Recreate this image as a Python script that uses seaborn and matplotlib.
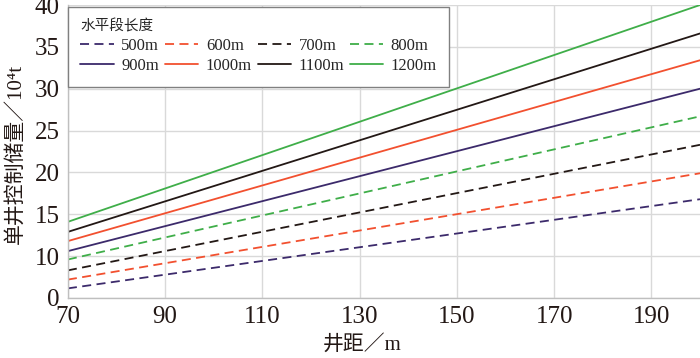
import pandas as pd
import matplotlib
matplotlib.use("Agg")
import matplotlib.pyplot as plt
import seaborn as sns
from matplotlib.lines import Line2D

# data (values at the two ends of each straight line)
spacing = [70, 200]
lengths = ["500m", "600m", "700m", "800m", "900m", "1000m", "1100m", "1200m"]
reserve_500 = [6.15, 16.8]
reserve_600 = [7.2, 19.9]
reserve_700 = [8.3, 23.3]
reserve_800 = [9.6, 26.7]
reserve_900 = [10.6, 30.0]
reserve_1000 = [11.8, 33.4]
reserve_1100 = [12.9, 36.6]
reserve_1200 = [14.1, 40.0]
all_reserves = [reserve_500, reserve_600, reserve_700, reserve_800,
                reserve_900, reserve_1000, reserve_1100, reserve_1200]

yticks = [5, 10, 15, 20, 25, 30, 35, 40]
ytick_labels = ["0", "10", "15", "20", "25", "30", "35", "40"]
xticks = [70, 90, 110, 130, 150, 170, 190]

purple = "#3c2a6b"
red = "#f2502f"
black = "#231815"
green = "#3fae49"
colors = [purple, red, black, green, purple, red, black, green]
dashed = [True] * 4 + [False] * 4

rows = []
for name, vals in zip(lengths, all_reserves):
    for x, v in zip(spacing, vals):
        rows.append({"spacing": x, "reserve": v, "length": name})
df = pd.DataFrame(rows)

sns.set_style("white")
serif = ["Liberation Serif", "Noto Sans CJK SC", "DejaVu Sans"]
plt.rcParams["font.family"] = serif

fig = plt.figure(figsize=(7, 3.58), dpi=100)
ax = fig.add_axes([0.097, 0.1676, 0.903, 0.8184])

palette = dict(zip(lengths, colors))
dash_map = {n: ((5, 3) if d else "") for n, d in zip(lengths, dashed)}
sns.lineplot(data=df, x="spacing", y="reserve", hue="length", style="length",
             palette=palette, dashes=dash_map, linewidth=1.3, legend=False, ax=ax)

ax.set_xlim(70, 200)
ax.set_ylim(5, 40)
ax.set_xticks(xticks)
ax.set_yticks(yticks)
ax.set_yticklabels(ytick_labels)
ax.tick_params(axis="both", labelsize=18, length=0, pad=6, colors="#231815")
ax.grid(True, color="#d9d9d9", linewidth=1)
for s in ["top", "right"]:
    ax.spines[s].set_visible(False)
for s in ["left", "bottom"]:
    ax.spines[s].set_color("#bfbfbf")
    ax.spines[s].set_linewidth(1)

ax.set_xlabel("井距／m", fontsize=15, color="#231815", va="center")
ax.xaxis.set_label_coords(0.465, -0.16)
ax.set_ylabel("单井控制储量／10⁴t", fontsize=15, color="#231815", va="center")
ax.yaxis.set_label_coords(-0.082, 0.49)

# legend: 4 columns, dashed row on top, solid row below
order = [0, 4, 1, 5, 2, 6, 3, 7]
handles = [Line2D([0], [0], color=colors[i], linewidth=1.3,
                  linestyle=(0, (5, 3)) if dashed[i] else "-") for i in order]
labels = [lengths[i] for i in order]
leg = ax.legend(handles, labels, ncol=4, loc="upper left",
                bbox_to_anchor=(0.0, 0.993), borderaxespad=0,
                title="水平段长度", title_fontsize=10.5, fontsize=12,
                handlelength=2.0, handletextpad=0.45, columnspacing=0.35,
                labelspacing=0.25, borderpad=0.75, frameon=True, fancybox=False,
                framealpha=1, edgecolor="#808080")
leg._legend_box.align = "left"
leg.get_frame().set_linewidth(1)

fig.savefig("out.png", dpi=100)
